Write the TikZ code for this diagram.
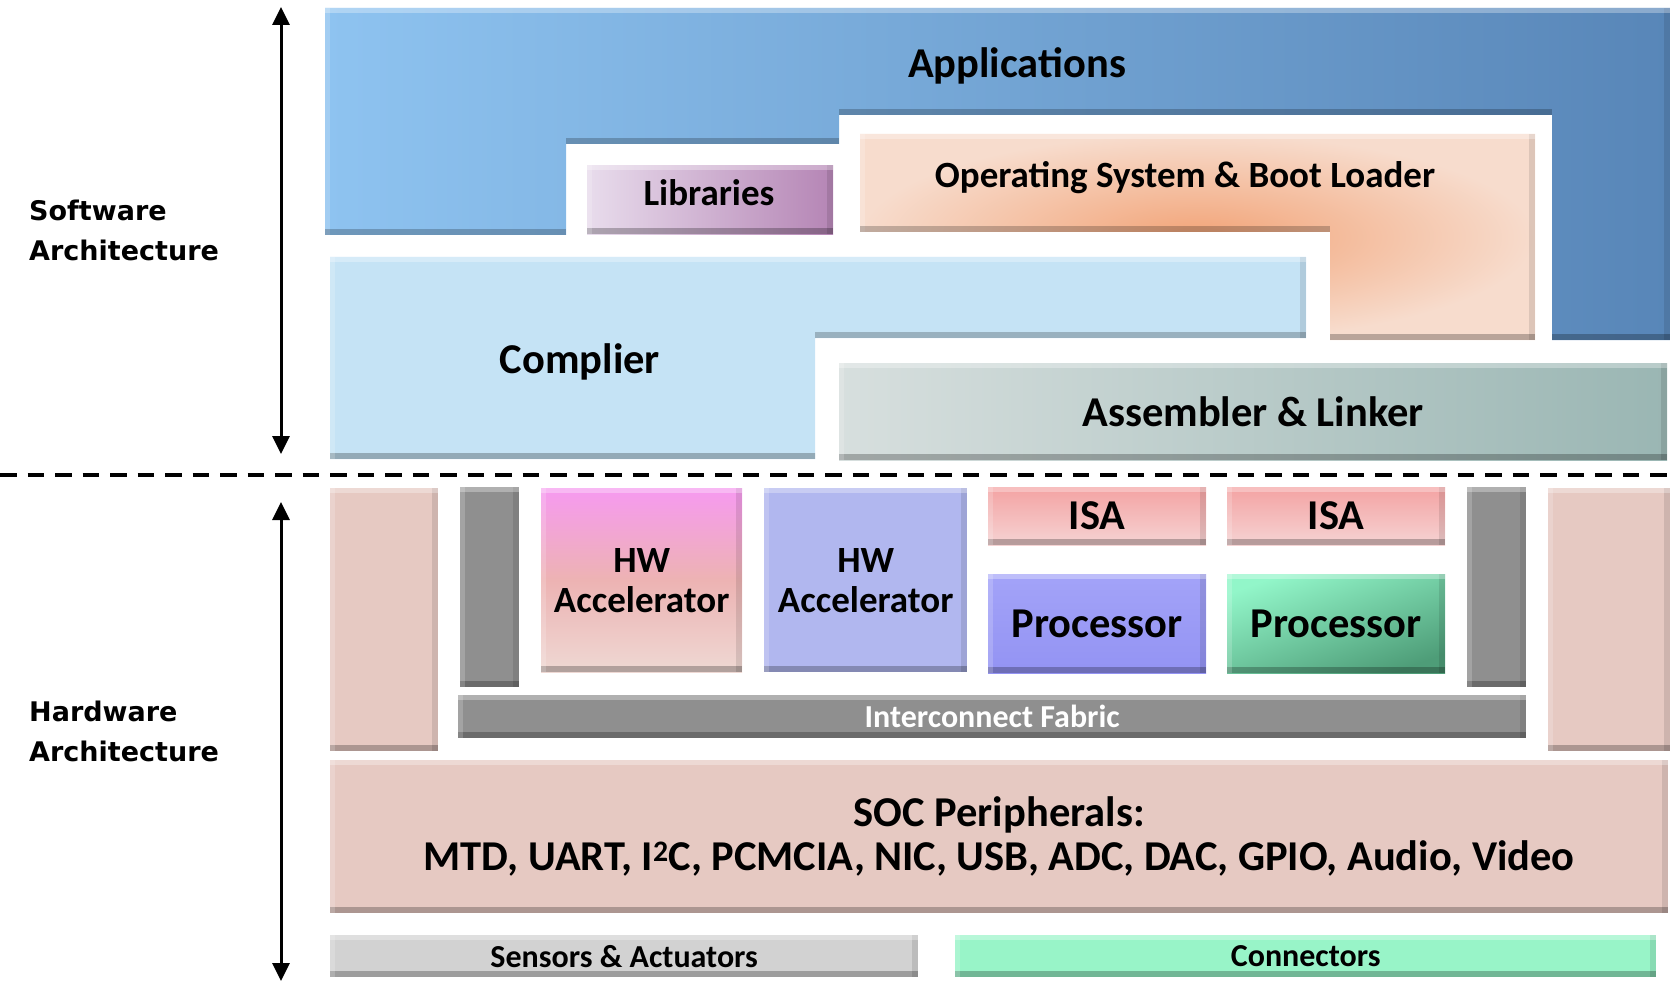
\documentclass[tikz,border=0pt]{standalone}
\usepackage{fontspec}
\setmainfont{Carlito}
\newfontfamily\dvs{DejaVu Sans}
\usetikzlibrary{arrows.meta}
\definecolor{appL}{HTML}{8EC3F0}
\definecolor{appR}{HTML}{5886B8}
\definecolor{osIn}{HTML}{F2A478}
\definecolor{osOut}{HTML}{F7DCCD}
\definecolor{cmp}{HTML}{C5E3F5}
\definecolor{asmL}{HTML}{D7DFDE}
\definecolor{asmR}{HTML}{9AB6B3}
\definecolor{libL}{HTML}{E8DCEC}
\definecolor{libR}{HTML}{B585B5}
\definecolor{hwaT}{HTML}{F69AF0}
\definecolor{hwaM}{HTML}{EDB3B3}
\definecolor{hwaB}{HTML}{EED8D3}
\definecolor{hwb}{HTML}{B1B7EF}
\definecolor{isaT}{HTML}{F4A3A3}
\definecolor{isaB}{HTML}{F5D3D3}
\definecolor{prA}{HTML}{9393F3}
\definecolor{prAl}{HTML}{A3A3F8}
\definecolor{prBL}{HTML}{92F6C9}
\definecolor{prBR}{HTML}{4E9D78}
\definecolor{gry}{HTML}{8F8F8F}
\definecolor{pnk}{HTML}{E6C9C2}
\definecolor{sens}{HTML}{D2D2D2}
\definecolor{conn}{HTML}{98F4C8}
\newcommand\fszA{\fontsize{42.5}{44}\selectfont}
\newcommand\fszB{\fontsize{37}{42}\selectfont}
\newcommand\fszC{\fontsize{32}{36}\selectfont}
\newcommand\fszL{\fontsize{27}{40}\selectfont}
\tikzset{
  bevel/.style={path picture={
    \fill[black,opacity=.25] ([yshift=6pt]path picture bounding box.south west) rectangle (path picture bounding box.south east);
    \fill[black,opacity=.10] ([xshift=-6pt]path picture bounding box.north east) rectangle (path picture bounding box.south east);
    \fill[white,opacity=.30] (path picture bounding box.north west) rectangle ([yshift=-5pt]path picture bounding box.north east);
    \fill[white,opacity=.18] (path picture bounding box.north west) rectangle ([xshift=5pt]path picture bounding box.south west);
  }},
  box/.style={rectangle, inner sep=0pt, anchor=north west, bevel, text=black, font=\bfseries\fszA, align=center},
  lbl/.style={font=\bfseries\fszA, text=black, inner sep=0pt},
  side/.style={font=\dvs\bfseries\fszL, align=left, anchor=west, inner sep=0pt},
  darr/.style={line width=3pt, {Triangle[length=18pt,width=17pt]}-{Triangle[length=18pt,width=17pt]}},
  edge/.style={black, opacity=.22}
}
\begin{document}
\begin{tikzpicture}[x=1pt,y=-1pt]
\useasboundingbox (0,0) rectangle (1670,984);

% ---------- software ----------
\shade[left color=appL, right color=appR, bevel]
  (325,8) -- (1670,8) -- (1670,340) -- (1552,340) -- (1552,115) -- (839,115)
  -- (839,144) -- (566,144) -- (566,235) -- (325,235) -- cycle;
\fill[edge] (325,229) rectangle (566,235);
\fill[edge] (566,138) rectangle (839,144);
\fill[edge] (839,109) rectangle (1552,115);
\node[lbl] (app) at (1017,66) {Applications};

\node[box, left color=libL, right color=libR, minimum width=246, minimum height=69] (lib) at (587,165) {};
\node[lbl, font=\bfseries\fszB] (libt) at (709,193) {Libraries};

\shade[inner color=osIn, outer color=osOut, bevel]
  (860,134) -- (1535,134) -- (1535,340) -- (1330,340) -- (1330,232) -- (860,232) -- cycle;
\fill[edge] (860,226) rectangle (1330,232);
\node[lbl, font=\bfseries\fszB] (os) at (1185,178) {Operating System \& Boot Loader};

\fill[cmp, bevel]
  (330,257) -- (1306,257) -- (1306,338) -- (815,338) -- (815,459) -- (330,459) -- cycle;
\fill[edge] (815,332) rectangle (1306,338);
\node[lbl] (cmpl) at (580,362) {Complier};

\node[box, left color=asmL, right color=asmR, minimum width=828, minimum height=97] (asm) at (839,363) {Assembler \& Linker};

% ---------- divider ----------
\coordinate (dl) at (0,475);
\coordinate (dr) at (1670,475);
\draw[line width=4.5pt, dash pattern=on 16.5pt off 11pt] (dl) -- (dr);

% ---------- hardware ----------
\node[box, fill=pnk, minimum width=108, minimum height=263] (pl) at (330,488) {};
\node[box, fill=pnk, minimum width=122, minimum height=263] (pr) at (1548,488) {};
\node[box, fill=gry, minimum width=59, minimum height=200] (gl) at (460,487) {};
\node[box, fill=gry, minimum width=59, minimum height=200] (gr) at (1467,487) {};

\node[box, top color=hwaT, bottom color=hwaB, middle color=hwaM, minimum width=201, minimum height=184, font=\bfseries\fszB] (hwa) at (541,488) {HW\\[-2pt]Accelerator};
\node[box, fill=hwb, minimum width=203, minimum height=184, font=\bfseries\fszB] (hwb) at (764,488) {HW\\[-2pt]Accelerator};

\node[box, top color=isaT, bottom color=isaB, minimum width=218, minimum height=58] (isa1) at (988,487) {ISA};
\node[box, top color=isaT, bottom color=isaB, minimum width=218, minimum height=58] (isa2) at (1227,487) {ISA};
\node[box, top color=prAl, bottom color=prA, minimum width=218, minimum height=99] (pr1) at (988,574) {Processor};
\node[box, top color=prBL, bottom color=prBR, shading angle=20, minimum width=218, minimum height=99] (pr2) at (1227,574) {Processor};

\node[box, fill=gry, minimum width=1068, minimum height=43, text=white, font=\bfseries\fszC] (ic) at (458,695) {Interconnect Fabric};

\node[box, fill=pnk, minimum width=1338, minimum height=153] (soc) at (330,760) {SOC Peripherals:\\MTD, UART, I\textsuperscript{2}C, PCMCIA, NIC, USB, ADC, DAC, GPIO, Audio, Video};

\node[box, fill=sens, minimum width=588, minimum height=42, font=\bfseries\fszC] (sens) at (330,935) {Sensors \& Actuators};
\node[box, fill=conn, minimum width=701, minimum height=42, font=\bfseries\fszC] (conn) at (955,935) {Connectors};

% ---------- side labels and arrows ----------
\node[side] (sw) at (29,230) {Software\\Architecture};
\node[side] (hw) at (29,731) {Hardware\\Architecture};
\coordinate (swt) at (281,7);
\coordinate (swb) at (281,454);
\coordinate (hwt) at (281,502);
\coordinate (hwb2) at (281,981);
\draw[darr] (swt) -- (swb);
\draw[darr] (hwt) -- (hwb2);
\end{tikzpicture}
\end{document}
